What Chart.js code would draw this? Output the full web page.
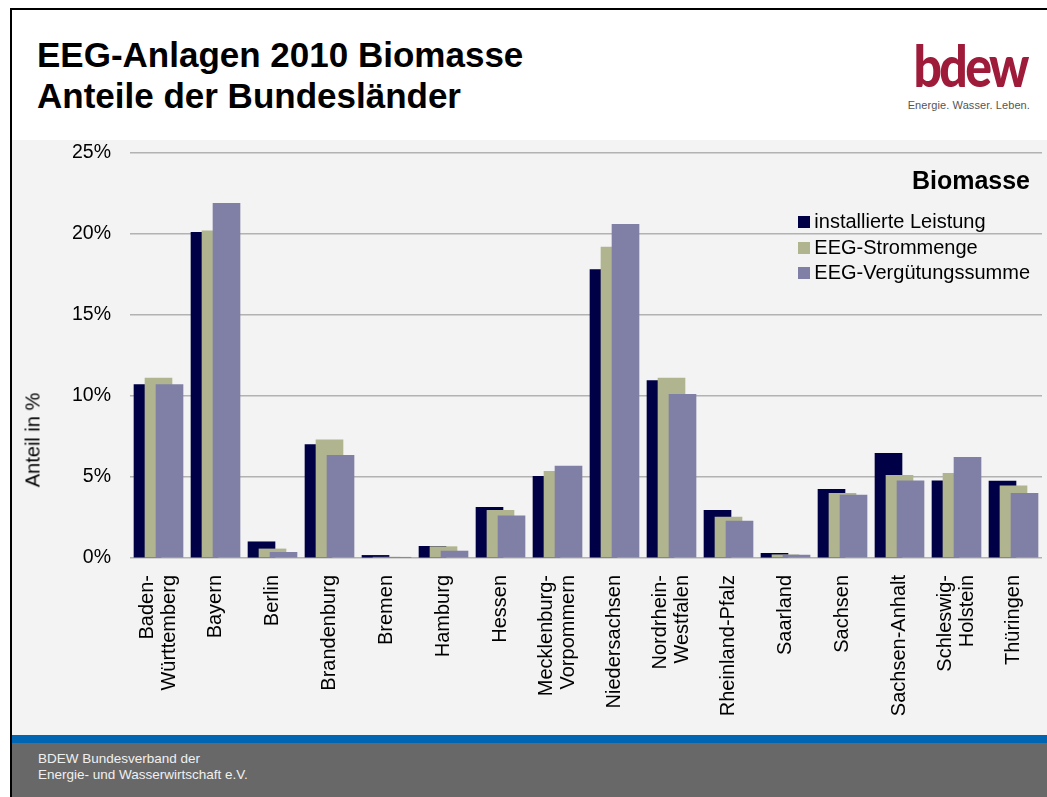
<!DOCTYPE html>
<html lang="de">
<head>
    <meta charset="UTF-8">
    <title>EEG-Anlagen 2010 Biomasse</title>
    <script src="https://cdn.jsdelivr.net/npm/chart.js"></script>
    <style>
        body { margin: 0; background: #fff; font-family: Arial, "Liberation Sans", sans-serif; width: 1047px; height: 797px; overflow: hidden; position: relative; }
        .frame { position: absolute; left: 10px; top: 8px; width: 1045px; height: 800px; border-left: 2px solid #000; border-top: 2px solid #000; }
        h1 { position: absolute; left: 37px; top: 34px; margin: 0; font-size: 35px; line-height: 41px; font-weight: bold; color: #000; }
        .logo { position: absolute; left: 880px; top: 36px; width: 150px; text-align: right; }
        .logo .word { display: inline-block; font-family: Lato, Arial, sans-serif; font-weight: 900; font-size: 58px; line-height: 58px; color: #9e1b3a; letter-spacing: -3px; transform: scaleX(0.86); transform-origin: right center; margin-right: 3px; }
        .logo .tag { font-size: 11px; color: #555; margin-top: 5px; white-space: nowrap; letter-spacing: 0.1px; }
        .panel { position: absolute; left: 12px; top: 140px; width: 1035px; height: 595px; background: #f3f3f3; }
        .stripe { position: absolute; left: 12px; top: 735px; width: 1035px; height: 8px; background: #0066b3; }
        .footer { position: absolute; left: 12px; top: 743px; width: 1035px; height: 54px; background: #686868; color: #f0f0f0; font-size: 13.5px; line-height: 16px; }
        .footer div { position: absolute; left: 26px; top: 8px; }
        .ytitle { position: absolute; left: 33px; top: 440px; transform: translate(-50%, -50%) rotate(-90deg); font-size: 20px; white-space: nowrap; color: #000; }
        #legend { position: absolute; right: 17px; top: 166px; text-align: left; }
        #legend .head { text-align: right; font-weight: bold; font-size: 25px; margin-bottom: 14px; }
        #legend .item { font-size: 20px; height: 25.5px; line-height: 25.5px; white-space: nowrap; }
        #legend .box { display: inline-block; width: 12px; height: 12px; margin-right: 4px; vertical-align: 0px; }
    </style>
</head>
<body>
    <div class="frame"></div>
    <h1>EEG-Anlagen 2010 Biomasse<br>Anteile der Bundesländer</h1>
    <div class="logo">
        <div class="word">bdew</div>
        <div class="tag">Energie. Wasser. Leben.</div>
    </div>
    <div class="panel"><canvas id="biomasseChart" width="1035" height="595"></canvas></div>
    <div class="ytitle">Anteil in %</div>
    <div class="stripe"></div>
    <div class="footer"><div>BDEW Bundesverband der<br>Energie- und Wasserwirtschaft e.V.</div></div>
    <div id="legend"><div class="head">Biomasse</div></div>

    <script>
        // Anteile in %
        const bundeslaender = [['Baden-', 'Württemberg'], 'Bayern', 'Berlin', 'Brandenburg', 'Bremen', 'Hamburg', 'Hessen',
            ['Mecklenburg-', 'Vorpommern'], 'Niedersachsen', ['Nordrhein-', 'Westfalen'], 'Rheinland-Pfalz', 'Saarland',
            'Sachsen', 'Sachsen-Anhalt', ['Schleswig-', 'Holstein'], 'Thüringen'];
        const leistung   = [10.7, 20.1, 1.0, 7.0, 0.16, 0.72, 3.13, 5.04, 17.8, 10.95, 2.94, 0.29, 4.24, 6.46, 4.77, 4.75];
        const strommenge = [11.1, 20.2, 0.56, 7.3, 0.05, 0.7, 2.94, 5.35, 19.2, 11.1, 2.53, 0.2, 3.99, 5.1, 5.23, 4.46];
        const verguetung = [10.7, 21.9, 0.35, 6.34, 0.03, 0.43, 2.61, 5.68, 20.6, 10.1, 2.28, 0.18, 3.89, 4.77, 6.22, 3.99];
        const reihen = ['installierte Leistung', 'EEG-Strommenge', 'EEG-Vergütungssumme'];
        const farben = ['#000046', '#b1b58f', '#8080a7'];
        const yTicks = [0, 5, 10, 15, 20, 25];

        // Excel-artige Überlappung: jede Reihe leicht versetzt
        const versatz = [-0.193, 0, 0.193];
        const werte = [leistung, strommenge, verguetung];

        const datasets = werte.map((w, k) => ({
            label: reihen[k],
            data: w.map((v, i) => ({ x: i + versatz[k], y: v })),
            backgroundColor: farben[k],
            borderWidth: 0,
            barThickness: 27,
            grouped: false,
            order: 3 - k
        }));

        // Legende
        const legend = document.getElementById('legend');
        reihen.forEach((r, k) => {
            const item = document.createElement('div');
            item.className = 'item';
            item.innerHTML = '<span class="box" style="background:' + farben[k] + '"></span>' + r;
            legend.appendChild(item);
        });

        new Chart(document.getElementById('biomasseChart'), {
            type: 'bar',
            data: { datasets: datasets },
            options: {
                responsive: false,
                animation: false,
                layout: { padding: { top: 13, right: 5, left: 0, bottom: 0 } },
                plugins: { legend: { display: false }, tooltip: { enabled: false } },
                scales: {
                    x: {
                        type: 'linear',
                        min: -0.5,
                        max: 15.5,
                        offset: false,
                        // zweizeilige Namen etwas nach links, damit sie mittig unter der Gruppe stehen
                        afterBuildTicks: axis => {
                            axis.ticks = bundeslaender.map((n, i) => ({ value: Array.isArray(n) ? i - 0.19 : i }));
                        },
                        afterFit: axis => { axis.height = 177; axis.paddingLeft = 0; axis.paddingRight = 0; },
                        grid: { display: false, drawTicks: false },
                        border: { display: false },
                        ticks: {
                            autoSkip: false,
                            maxRotation: 90,
                            minRotation: 90,
                            padding: 17,
                            color: '#000',
                            font: { family: 'Arial', size: 20, lineHeight: 1.1 },
                            callback: v => bundeslaender[Math.round(v)]
                        }
                    },
                    y: {
                        min: 0,
                        max: 25,
                        afterBuildTicks: axis => { axis.ticks = yTicks.map(v => ({ value: v })); },
                        afterFit: axis => { axis.width = 118; axis.paddingTop = 0; axis.paddingBottom = 0; },
                        grid: { color: '#b2b2b2', lineWidth: 1.5, drawTicks: false },
                        border: { display: false },
                        ticks: {
                            padding: 19,
                            color: '#000',
                            font: { family: 'Arial', size: 19.5 },
                            callback: v => v + '%'
                        }
                    }
                }
            }
        });
    </script>
</body>
</html>
